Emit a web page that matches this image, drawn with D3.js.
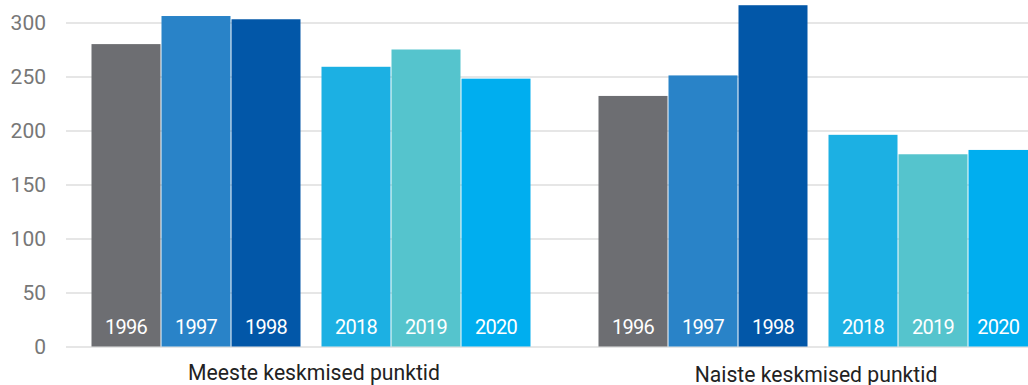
<!DOCTYPE html>
<html>
<head>
<meta charset="utf-8">
<script src="https://cdn.jsdelivr.net/npm/d3@7"></script>
<style>
  html, body { margin: 0; padding: 0; background: #fff; }
  svg { display: block; }
</style>
</head>
<body>
<svg id="chart" width="1028" height="385"></svg>
<script>
// Average points, grouped by men / women, for the 1990s and the 2018–2020 period
const groups = ["Meeste keskmised punktid", "Naiste keskmised punktid"];
const periods = ["early", "recent"];
const years = [["1996", "1997", "1998"], ["2018", "2019", "2020"]];
const menValues = [280, 306, 303, 259, 275, 248];
const womenValues = [232, 251, 316, 196, 178, 182];
const yTicks = [0, 50, 100, 150, 200, 250, 300];
const yearColors = {
  "1996": "#6d6e72", "1997": "#2983c8", "1998": "#0257a8",
  "2018": "#1cb0e3", "2019": "#55c4cd", "2020": "#00aeef"
};

const svg = d3.select("#chart");
const width = 1028;

const y = d3.scaleLinear().domain([0, 300]).range([346.5, 22.5]);

// outer scale: one band per group
const x0 = d3.scaleBand().domain(groups).range([57.5, 1071.5]).padding(0);
const groupInner = 439;
const groupOffset = (x0.bandwidth() - groupInner) / 2;
// middle scale: the two periods inside a group
const x1 = d3.scaleBand().domain(periods).range([0, groupInner])
  .paddingInner(1 - 209 / 230).paddingOuter(0);
// inner scale: the three years inside a period
const x2 = d3.scaleBand().domain([0, 1, 2]).range([0, x1.bandwidth()])
  .paddingInner(1 - 69 / 70).paddingOuter(0);

// gridlines
const yAxis = d3.axisLeft(y).tickValues(yTicks).tickSize(-(width - 66)).tickPadding(20);
const gAxis = svg.append("g").attr("transform", "translate(66,0)").call(yAxis);
gAxis.select(".domain").remove();
gAxis.selectAll(".tick line").attr("stroke", "#e6e6e6").attr("stroke-width", 2);
gAxis.selectAll(".tick text")
  .attr("x", -20)
  .attr("fill", "#777")
  .style("font-family", "Roboto, sans-serif")
  .style("font-size", "21px");

const rows = [];
groups.forEach((g, gi) => {
  const vals = gi === 0 ? menValues : womenValues;
  periods.forEach((p, pi) => {
    years[pi].forEach((yr, yi) => {
      rows.push({
        group: g, period: p, year: yr, idx: yi, value: vals[pi * 3 + yi]
      });
    });
  });
});

const xPos = d => x0(d.group) + groupOffset + x1(d.period) + x2(d.idx);
// label sits in the middle of the visible part of its bar
const labelX = d => {
  const left = xPos(d);
  const right = Math.min(left + x2.bandwidth(), width);
  return (left + right) / 2;
};

const bars = svg.append("g");
bars.selectAll("rect").data(rows).join("rect")
  .attr("x", xPos)
  .attr("y", d => y(d.value))
  .attr("width", x2.bandwidth())
  .attr("height", d => y(0) - y(d.value))
  .attr("fill", d => yearColors[d.year]);

bars.selectAll("text").data(rows).join("text")
  .attr("x", labelX)
  .attr("y", 333.5)
  .attr("text-anchor", "middle")
  .attr("fill", "#fff")
  .style("font-family", "Roboto, sans-serif")
  .style("font-size", "20px")
  .style("letter-spacing", "-0.8px")
  .text(d => d.year);

// group captions
const captionY = [379.5, 381.5];
const captionDx = [3, -2];
svg.append("g").selectAll("text").data(groups).join("text")
  .attr("x", (g, i) => x0(g) + x0.bandwidth() / 2 + captionDx[i])
  .attr("y", (g, i) => captionY[i])
  .attr("text-anchor", "middle")
  .attr("fill", "#222")
  .style("font-family", "Roboto, sans-serif")
  .style("font-size", "21.2px")
  .text(g => g);
</script>
</body>
</html>
